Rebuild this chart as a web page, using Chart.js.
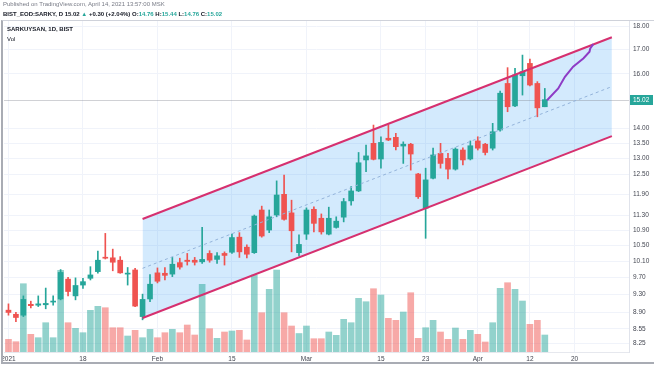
<!DOCTYPE html>
<html>
<head>
<meta charset="utf-8">
<script src="https://cdn.jsdelivr.net/npm/chart.js@4.4.1/dist/chart.umd.min.js"></script>
<style>
  html,body{margin:0;padding:0;background:#fff;}
  body{width:654px;height:366px;position:relative;overflow:hidden;font-family:"Liberation Sans",Arial,sans-serif;}
  #c{position:absolute;left:0;top:0;}
  .t{position:absolute;white-space:nowrap;line-height:7px;}
  #frame{position:absolute;left:1px;top:20px;width:660px;height:341px;border-left:2px solid #a9acb4;border-top:1px solid #cfd2da;border-bottom:2px solid #a9acb4;pointer-events:none;}
  .g{color:#26a69a;}
</style>
</head>
<body>
<canvas id="c" width="654" height="366"></canvas>
<div id="frame"></div>
<div class="t" style="left:3px;top:1px;font-size:6px;color:#787b86;">Published on TradingView.com, April 14, 2021 13:57:00 MSK</div>
<div class="t" style="left:3px;top:11px;font-size:6px;font-weight:bold;color:#131722;">BIST_EOD:SARKY, D 15.02 <span class="g">▲</span> +0.30 (+2.04%) O:<span class="g">14.76</span> H:<span class="g">15.44</span> L:<span class="g">14.76</span> C:<span class="g">15.02</span></div>
<div class="t" style="left:7px;top:26px;font-size:6px;font-weight:bold;color:#131722;">SARKUYSAN, 1D, BIST</div>
<div class="t" style="left:7px;top:36px;font-size:6px;color:#131722;">Vol</div>
<script>
// ---- data ----
const tickIdx  = [0, 10, 20, 30, 40, 50, 56, 63, 70, 76];
const tickText = ['2021', '18', 'Feb', '15', 'Mar', '15', '23', 'Apr', '12', '20'];
const priceTicks = [18.00, 17.00, 16.00, 14.00, 13.50, 13.00, 12.50, 11.90, 11.30, 10.90, 10.50, 10.10, 9.70, 9.30, 8.90, 8.55, 8.25];

const open = [8.95,8.86,8.84,9.08,9.06,9.07,9.13,9.20,9.66,9.27, 9.52,9.68,9.84,10.19,10.18,10.12,9.78,9.88,8.81,9.20,
  9.81,9.80,9.78,10.06,10.12,10.12,10.08,10.29,10.14,10.29, 10.32,10.71,10.45,10.31,11.45,10.90,11.31,11.90,11.37,10.31,
  10.79,11.47,11.22,10.79,10.97,11.25,11.71,12.00,12.95,13.49, 12.98,13.66,13.69,13.40,13.46,12.51,11.50,12.38,13.16,13.00,
  12.66,13.27,12.98,13.57,13.46,13.33,13.94,15.63,14.79,15.93, 16.42,15.63,14.76];
const high = [9.09,8.90,9.27,9.15,9.27,9.45,9.27,9.89,9.70,9.69, 9.68,9.96,10.35,10.81,10.40,10.21,9.94,9.92,9.31,9.77,
  9.93,9.94,10.19,10.17,10.29,10.19,10.97,10.36,10.31,10.33, 10.79,10.83,10.51,11.31,11.56,11.45,12.30,12.48,11.73,10.77,
  11.51,11.54,11.34,11.53,11.26,11.78,12.13,13.19,13.43,14.11, 13.71,14.11,13.83,13.54,13.49,12.53,12.69,13.33,13.49,13.16,
  13.34,13.34,13.57,13.71,13.49,14.17,15.34,16.25,16.22,16.76, 16.60,15.70,15.44];
const low = [8.84,8.70,8.81,9.00,9.03,8.98,9.06,9.18,9.27,9.18, 9.44,9.64,9.80,10.15,9.86,9.80,9.52,9.03,8.74,9.14,
  9.57,9.64,9.72,9.90,10.00,10.00,10.04,10.07,10.04,10.00, 10.29,10.19,10.18,10.29,10.71,10.83,11.26,11.17,10.33,10.23,
  10.65,10.85,10.79,10.77,10.95,11.12,11.59,11.98,12.58,12.95, 12.69,13.58,13.27,12.84,12.63,11.78,10.68,12.36,12.69,12.36,
  12.63,12.79,12.95,13.27,13.11,13.27,13.90,14.58,14.76,15.19, 15.54,14.40,14.76];
const close = [8.90,8.79,9.19,9.05,9.09,9.10,9.15,9.82,9.37,9.51, 9.60,9.76,10.12,10.17,10.07,9.81,9.80,9.04,9.19,9.54,
  9.61,9.75,10.02,9.95,10.09,10.07,10.14,10.12,10.23,10.24, 10.70,10.33,10.27,11.28,10.74,11.26,11.88,11.19,10.88,10.52,
  11.45,11.08,10.85,11.22,11.14,11.69,12.00,12.86,13.08,12.97, 13.52,13.60,13.38,13.46,13.14,11.83,12.33,13.11,12.84,12.66,
  13.30,12.95,13.41,13.33,13.19,13.88,15.26,14.76,15.96,16.09, 15.57,14.72,15.02];
const volume = [1.27,1.03,6.83,1.77,1.43,2.93,1.43,8.17,2.93,2.37, 1.93,4.17,4.57,4.43,2.43,2.43,1.60,2.17,1.43,2.27,
  1.43,1.93,2.27,1.93,2.70,1.70,6.77,2.33,1.37,2.00, 2.10,2.17,1.20,7.70,3.93,6.27,8.20,3.93,2.60,1.85,
  2.60,1.33,1.33,2.00,1.67,3.27,2.93,5.37,5.03,6.33, 5.70,3.37,3.17,4.00,5.93,1.37,2.43,3.17,2.00,1.27,
  2.40,1.27,2.17,1.77,1.00,2.93,6.37,6.93,6.27,5.10, 2.77,3.17,1.70];

// channel (bar index, price)
const channelX     = [18, 81];
const channelUpper = [11.20, 17.51];
const channelLower = [8.78, 13.73];
const channelMid   = [9.92, 15.51];
// hand-drawn projection path (bar index, price)
const pathX = [72.3, 73.8, 74.7, 75.8, 77.2, 78.0, 78.1, 78.5];
const pathY = [15.00, 15.44, 15.89, 16.29, 16.63, 16.90, 17.04, 17.22];

const xRange = [-0.6, 83.3];
const yRange = [8.075, 18.27];

// ---- build ----
const UP = '#26a69a', DOWN = '#ef5350';
const UPV = 'rgba(38,166,154,0.5)', DOWNV = 'rgba(239,83,80,0.5)';
const idx = open.map((_, i) => i);
const isUp = idx.map(i => close[i] >= open[i]);
const pts = (xs, ys) => xs.map((x, i) => ({x, y: ys[i]}));
const lastClose = close[close.length - 1];

const fixW = w => s => { s.width = w; s.paddingTop = 0; s.paddingBottom = 0; };
const fixH = h => s => { s.height = h; s.paddingLeft = 0; s.paddingRight = 0; };

const lastPricePlugin = {
  id: 'lastPrice',
  beforeDatasetsDraw(chart) {
    const {ctx, chartArea} = chart;
    const y = Math.round(chart.scales.y.getPixelForValue(lastClose)) + 0.5;
    ctx.save();
    ctx.strokeStyle = 'rgba(120,123,134,0.35)';
    ctx.lineWidth = 1;
    ctx.beginPath(); ctx.moveTo(chartArea.left, y); ctx.lineTo(chartArea.right, y); ctx.stroke();
    ctx.restore();
  },
  afterDraw(chart) {
    const {ctx, chartArea} = chart;
    const y = Math.round(chart.scales.y.getPixelForValue(lastClose));
    ctx.save();
    ctx.fillStyle = UP;
    ctx.fillRect(chartArea.right + 1, y - 5, 23, 10);
    ctx.fillStyle = '#ffffff';
    ctx.font = '6.5px "Liberation Sans", Arial, sans-serif';
    ctx.textBaseline = 'middle';
    ctx.textAlign = 'left';
    ctx.fillText(lastClose.toFixed(2), chartArea.right + 4, y + 0.5);
    ctx.restore();
  }
};

new Chart(document.getElementById('c'), {
  type: 'bar',
  data: {
    datasets: [
      { type: 'line', data: pts(channelX, channelUpper), borderColor: '#d6306f', borderWidth: 2, pointRadius: 0, fill: false, order: 2, yAxisID: 'y' },
      { type: 'line', data: pts(channelX, channelLower), borderColor: '#d6306f', borderWidth: 2, pointRadius: 0, fill: '-1', backgroundColor: 'rgba(33,150,243,0.2)', order: 2, yAxisID: 'y' },
      { type: 'line', data: pts(channelX, channelMid), borderColor: '#93b3da', borderWidth: 1, borderDash: [3, 3], pointRadius: 0, fill: false, order: 2, yAxisID: 'y' },
      { type: 'line', data: pts(pathX, pathY), borderColor: '#8e3cc6', borderWidth: 2, pointRadius: 0, fill: false, tension: 0, order: 1, yAxisID: 'y' },
      { data: idx.map(i => ({x: i, y: volume[i]})), yAxisID: 'yv', backgroundColor: idx.map(i => isUp[i] ? UPV : DOWNV), barThickness: 6, grouped: false, order: 6 },
      { data: idx.map(i => ({x: i, y: [low[i], high[i]]})), yAxisID: 'y', backgroundColor: idx.map(i => isUp[i] ? UP : DOWN), barThickness: 1, grouped: false, minBarLength: 1, order: 5 },
      { data: idx.map(i => ({x: i, y: [open[i], close[i]]})), yAxisID: 'y', backgroundColor: idx.map(i => isUp[i] ? UP : DOWN), barThickness: 5, grouped: false, minBarLength: 1, order: 4 }
    ]
  },
  options: {
    responsive: false,
    animation: false,
    devicePixelRatio: 1,
    events: [],
    layout: { padding: { left: 4, top: 20, right: 0, bottom: 0 } },
    plugins: { legend: { display: false }, tooltip: { enabled: false }, filler: { drawTime: 'beforeDatasetsDraw' } },
    scales: {
      x: {
        type: 'linear', min: xRange[0], max: xRange[1], offset: false, bounds: 'data',
        grid: { offset: false, color: '#f0f3fa', drawTicks: false },
        border: { display: true, color: '#e6e8ee' },
        afterBuildTicks: s => { s.ticks = tickIdx.map(v => ({value: v})); },
        afterFit: fixH(14),
        ticks: {
          autoSkip: false, maxRotation: 0, padding: 3,
          color: '#434651', font: { size: 6.5, family: '"Liberation Sans", Arial, sans-serif' },
          callback: v => { const k = tickIdx.indexOf(v); return k >= 0 ? tickText[k] : ''; }
        }
      },
      y: {
        type: 'logarithmic', position: 'right', min: yRange[0], max: yRange[1], bounds: 'data',
        grid: { color: '#f0f3fa', drawTicks: false },
        border: { display: true, color: '#e0e3eb' },
        afterBuildTicks: s => { s.ticks = priceTicks.map(v => ({value: v})); },
        afterFit: fixW(25),
        ticks: {
          autoSkip: false, padding: 4, crossAlign: 'near',
          color: '#434651', font: { size: 6.5, family: '"Liberation Sans", Arial, sans-serif' },
          callback: v => Number(v).toFixed(2)
        }
      },
      yv: {
        type: 'linear', display: false, min: 0, max: Math.max(...volume) * 4.05
      }
    }
  },
  plugins: [lastPricePlugin]
});
</script>
</body>
</html>
